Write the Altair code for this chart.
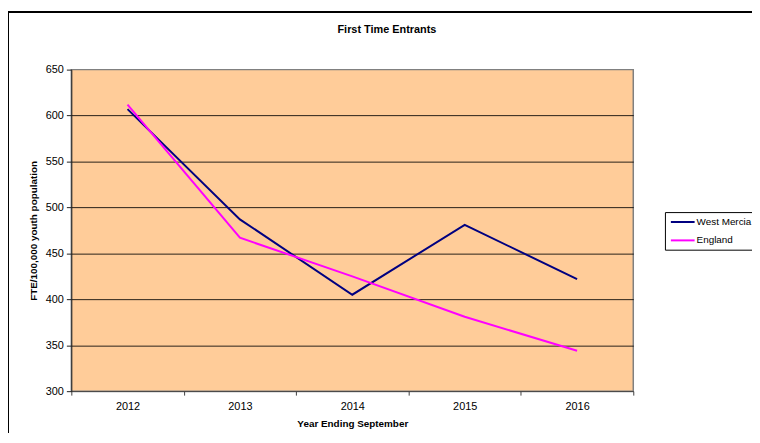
import altair as alt
import pandas as pd

years = ["2012", "2013", "2014", "2015", "2016"]
west_mercia = [607, 487, 405, 481, 422]
england = [612, 467, 425, 381, 344]
series_names = ["West Mercia", "England"]
series_colors = ["#000080", "#FF00FF"]
y_ticks = [300, 350, 400, 450, 500, 550, 600, 650]

rows = []
for name, vals in zip(series_names, [west_mercia, england]):
    for yr, v in zip(years, vals):
        rows.append({"Year": yr, "Value": v, "Series": name})
df = pd.DataFrame(rows)

FONT = "Liberation Sans"

lines = alt.Chart(df).mark_line(strokeWidth=2, clip=False).encode(
    x=alt.X(
        "Year:O",
        bandPosition=0.5,
        scale=alt.Scale(type="band", paddingInner=0, paddingOuter=0),
        axis=alt.Axis(
            title="Year Ending September",
            labelAngle=0,
            tickBand="extent",
            tickSize=4,
            labelPadding=6,
            titlePadding=7,
            domainColor="#404040",
            tickColor="#404040",
            grid=False,
        ),
    ),
    y=alt.Y(
        "Value:Q",
        scale=alt.Scale(domain=[300, 650], nice=False, zero=False),
        axis=alt.Axis(
            title="FTE/100,000 youth population",
            values=y_ticks,
            tickSize=5,
            labelPadding=3,
            titlePadding=7,
            domainColor="#202020",
            tickColor="#202020",
            grid=True,
            gridColor={
                "condition": {"test": "datum.value == 650 || datum.value == 300", "value": "transparent"},
                "value": "#000000",
            },
            gridWidth=1,
            gridOpacity=0.85,
        ),
    ),
    color=alt.Color(
        "Series:N",
        scale=alt.Scale(domain=series_names, range=series_colors),
        sort=series_names,
        legend=alt.Legend(
            title=None,
            orient="none",
            legendX=600,
            legendY=144,
            direction="vertical",
            symbolType="M-2.4,0H2.4",
            symbolSize=100,
            symbolStrokeWidth=2,
            symbolOffset=8,
            labelOffset=8,
            rowPadding=7.6,
            padding=4,
            strokeColor="#000000",
            fillColor="#FFFFFF",
            cornerRadius=0,
            labelFontSize=10,
            labelFont=FONT,
            labelColor="#000000",
        ),
    ),
)

frame_top = alt.Chart(df).mark_rule(color="#000000", strokeWidth=1.5, clip=False).encode(
    x=alt.value(-64), x2=alt.value(720), y=alt.value(-58)
)
frame_left = alt.Chart(df).mark_rule(color="#000000", strokeWidth=1.5, clip=False).encode(
    x=alt.value(-64), y=alt.value(-58), y2=alt.value(390)
)

chart = (
    alt.layer(lines, frame_top, frame_left)
    .properties(
        width=568,
        height=325,
        title=alt.TitleParams(
            "First Time Entrants",
            font=FONT,
            fontSize=11,
            fontWeight="bold",
            color="#000000",
            offset=-24,
            dx=35,
        ),
        autosize=alt.AutoSizeParams(type="none"),
        padding={"left": 64, "top": 60, "right": 120, "bottom": 40},
        background="#FFFFFF",
    )
    .configure_view(fill="#FFCC99", stroke="#808080", strokeWidth=1.5)
    .configure_axis(
        labelFont=FONT,
        labelFontSize=11,
        labelColor="#000000",
        titleFont=FONT,
        titleFontSize=10,
        titleFontWeight="bold",
        titleColor="#000000",
    )
)

chart.save("out.html", embed_options={"renderer": "svg", "actions": False})
